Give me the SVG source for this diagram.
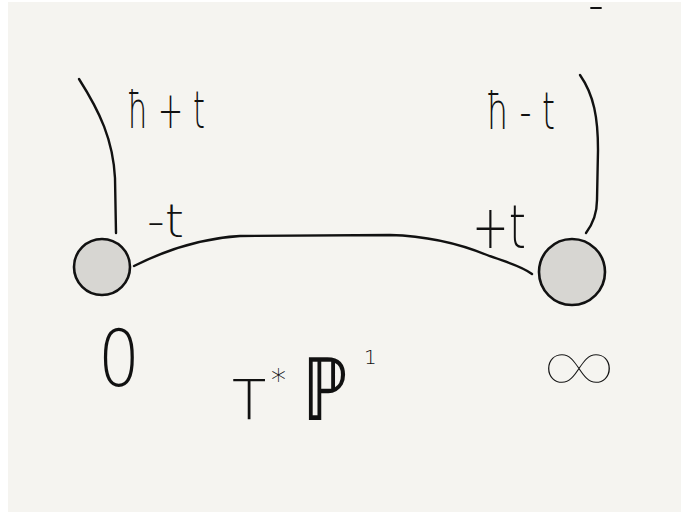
<svg xmlns="http://www.w3.org/2000/svg" width="681" height="512" viewBox="0 0 681 512">
<style>
.ink{fill:none;stroke:#111;stroke-width:2.4;stroke-linecap:round;stroke-linejoin:round}
.node{fill:#d7d6d2;stroke:#111;stroke-width:2.6}
.lbl{font-family:"DejaVu Sans","Liberation Sans",sans-serif;font-weight:200;fill:#111}
.thin{font-family:"Lato","Noto Sans","Open Sans",sans-serif;font-weight:100;fill:#111}
</style>
<rect x="0" y="0" width="681" height="512" fill="#ffffff"/>
<rect x="8" y="2" width="673" height="510" fill="#f5f4f0"/>
<g id="connectors">
<path class="ink" d="M79,79 C100,112 113,140 115,178 L116,233"/>
<path class="ink" d="M580,75 C594,95 598,118 598,150 L597,200 C597,215 592,225 586,233"/>
<path class="ink" d="M134,266 C170,248 205,238 240,236 L390,235 C430,236 460,244 487,255 C505,262 520,265 532,274"/>
<line class="ink" x1="591" y1="8" x2="601" y2="8" style="stroke-width:1.8"/>
</g>
<g id="node-0">
<circle class="node" cx="102" cy="267" r="28"/>
<text class="lbl" x="98" y="386" font-size="78" textLength="42" lengthAdjust="spacingAndGlyphs">0</text>
</g>
<g id="node-inf">
<circle class="node" cx="572" cy="272" r="33"/>
<text class="thin" x="540" y="398" font-size="100" textLength="78" lengthAdjust="spacingAndGlyphs">∞</text>
</g>
<g id="labels">
<text class="lbl" x="127" y="128" font-size="52" textLength="78" lengthAdjust="spacingAndGlyphs">ħ + t</text>
<text class="lbl" x="147" y="237" font-size="46" textLength="37" lengthAdjust="spacingAndGlyphs">-t</text>
<text class="lbl" x="486" y="129" font-size="52" textLength="69" lengthAdjust="spacingAndGlyphs">ħ - t</text>
<text class="lbl" x="472" y="248" font-size="60" textLength="54" lengthAdjust="spacingAndGlyphs">+t</text>
<g id="label-TP1">
<text class="lbl" x="232" y="419" font-size="56">T</text>
<text class="lbl" x="271" y="390" font-size="30">*</text>
<text class="lbl" x="302" y="420" font-size="88" textLength="47" lengthAdjust="spacingAndGlyphs">ℙ</text>
<text class="lbl" x="364" y="364" font-size="20">1</text>
</g>
</g>
</svg>
